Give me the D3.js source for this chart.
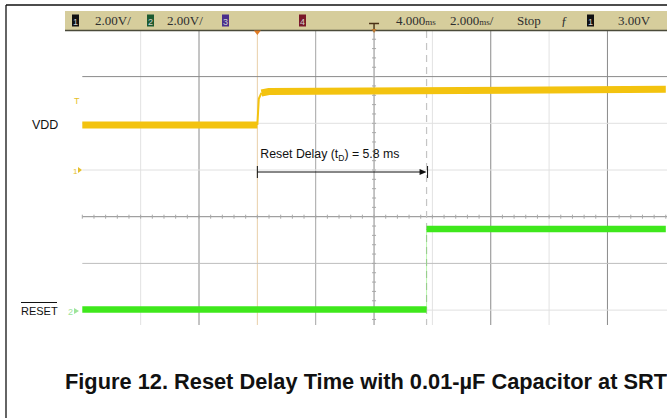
<!DOCTYPE html>
<html><head><meta charset="utf-8">
<script src="https://cdn.jsdelivr.net/npm/d3@7"></script>
<style>body{margin:0;background:#fff}svg{display:block}</style>
</head><body>
<svg id="c" width="667" height="418"></svg>
<script>
// ---------- data ----------
// time in ms, volts; 2 ms/div, 2 V/div, delay 4.000 ms at screen centre
const vddTime   = [-6, 0.00, 0.05, 0.14, 0.40, 14];
const vddVolts  = [1.93, 1.93, 3.05, 3.30, 3.36, 3.46];
const resetTime = [-6, 5.80, 5.80, 14];
const resetVolts= [0.06, 0.06, 3.51, 3.51];
const gridTimes = [-4, -2, 0, 2, 4, 6, 8, 10, 12];
const gridVolts = [4, 2, 0, -2, -4, -6];
const chanBoxes = ["1", "2", "3", "4"];
const headerLabels = ["2.00V/", "2.00V/", "4.000", "2.000", "Stop", "ƒ", "3.00V"];
const delayMs = 5.8;
const signalLabels = ["VDD", "RESET"];
const caption = "Figure 12. Reset Delay Time with 0.01-µF Capacitor at SRT";

// ---------- scales ----------
const svg = d3.select("#c");
const x = d3.scaleLinear().domain([-6, 14]).range([82.3, 665.8]);
const y1 = d3.scaleLinear().domain([0, 2]).range([170, 123.3]);   // ch1 (VDD)
const y2 = d3.scaleLinear().domain([0, 2]).range([311, 264.3]);   // ch2 (RESET)
const screenTop = 31, screenBottom = 325;

// frame
svg.append("line").attr("x1",6).attr("x2",6).attr("y1",5).attr("y2",418).attr("stroke","#111").attr("stroke-width",1.3);
svg.append("line").attr("x1",6).attr("x2",667).attr("y1",5).attr("y2",5).attr("stroke","#111").attr("stroke-width",1.3);

// clip for scope screen
svg.append("clipPath").attr("id","scr").append("rect")
  .attr("x",65).attr("y",screenTop).attr("width",602).attr("height",screenBottom-screenTop);
const scr = svg.append("g").attr("clip-path","url(#scr)");

// grid
const vStyle = t => t===0 ? "#e9cfa8" : ([-2,4,8,12].includes(t) ? "#8a8a8a" : (t===2 ? "#a4a4a4" : "#e2e2e2"));
scr.selectAll("line.vg").data(gridTimes).join("line").attr("class","vg")
  .attr("x1",d=>x(d)).attr("x2",d=>x(d)).attr("y1",screenTop).attr("y2",screenBottom)
  .attr("stroke",vStyle).attr("stroke-width",1);
const hStyle = v => (v===4||v===-2) ? "#8a8a8a" : (v===-4 ? "#bdbdbd" : "#e0e0e0");
scr.selectAll("line.hg").data(gridVolts).join("line").attr("class","hg")
  .attr("x1",x(-6)).attr("x2",667).attr("y1",d=>y1(d)).attr("y2",d=>y1(d))
  .attr("stroke",hStyle).attr("stroke-width",1);

// centre-axis minor ticks
const hTicks = d3.range(-6, 14.01, 0.4);
scr.selectAll("line.ht").data(hTicks).join("line").attr("class","ht")
  .attr("x1",d=>x(d)).attr("x2",d=>x(d)).attr("y1",y1(-2)-2).attr("y2",y1(-2)+2)
  .attr("stroke","#a8a8a8");
const vTicks = d3.range(-10, 6.01, 0.4);
scr.selectAll("line.vt").data(vTicks).join("line").attr("class","vt")
  .attr("x1",x(4)-2).attr("x2",x(4)+2).attr("y1",d=>y1(d)).attr("y2",d=>y1(d))
  .attr("stroke","#a8a8a8");

// dashed marker at RESET edge
scr.append("line").attr("x1",x(delayMs)).attr("x2",x(delayMs)).attr("y1",screenTop).attr("y2",screenBottom)
  .attr("stroke","#c4c4c4").attr("stroke-width",1.2).attr("stroke-dasharray","7,5");

// traces: thick flat levels, thin fast edges
function trace(ts, vs, ys, segs, color, w) {
  const ln = d3.line().x(i=>x(ts[i])).y(i=>ys(vs[i]));
  segs.forEach(s => {
    scr.append("path").attr("d", ln(s.idx)).attr("fill","none")
      .attr("stroke", color).attr("stroke-width", s.thin ? s.thin : w)
      .attr("stroke-opacity", s.op || 1).attr("stroke-linejoin","round");
  });
}
trace(vddTime, vddVolts, y1, [
  {idx:[0,1]}, {idx:[1,2,3], thin:2}, {idx:[3,4,5]}
], "#f3c30f", 7);
trace(resetTime, resetVolts, y2, [
  {idx:[0,1]}, {idx:[1,2], thin:1, op:0.35}, {idx:[2,3]}
], "#3fe81c", 6.5);

// left channel markers
svg.append("text").attr("x",74).attr("y",y1(3)+4).attr("font-family","Liberation Sans").attr("font-size",9)
  .attr("fill","#e6bf2a").text("T");
svg.append("text").attr("x",73).attr("y",y1(0)+4).attr("font-family","Liberation Sans").attr("font-size",8)
  .attr("fill","#e6bf2a").text("1");
svg.append("path").attr("d",`M78,${y1(0)-3}L82,${y1(0)}L78,${y1(0)+3}Z`).attr("fill","#e6bf2a");
svg.append("text").attr("x",68).attr("y",y2(0)+4).attr("font-family","Liberation Sans").attr("font-size",9)
  .attr("fill","#9ee49a").text("2");
svg.append("path").attr("d",`M74,${y2(0)-3}L79,${y2(0)}L74,${y2(0)+3}Z`).attr("fill","#9ee49a");

// header bar
svg.append("rect").attr("x",65).attr("y",11).attr("width",602).attr("height",19.5).attr("fill","#d6cd9c");
svg.append("line").attr("x1",65).attr("x2",667).attr("y1",30.5).attr("y2",30.5).attr("stroke","#4a4a3a").attr("stroke-width",1.5);
const boxX = [72, 147, 222, 299], boxC = ["#111","#1d5a30","#4a2f8c","#7a1828"];
chanBoxes.forEach((c,i)=>{
  svg.append("rect").attr("x",boxX[i]).attr("y",14.5).attr("width",7).attr("height",12).attr("fill",boxC[i]);
  svg.append("text").attr("x",boxX[i]+3.5).attr("y",24.5).attr("text-anchor","middle")
    .attr("font-family","Liberation Sans").attr("font-size",9).attr("fill", "#cfcfcf").text(c);
});
const hdrX = [95, 167, 396, 450, 517, 561, 618];
const hdr = svg.append("g").attr("font-family","Liberation Serif").attr("font-size",13).attr("fill","#2e2e2e");
headerLabels.forEach((t,i)=>{
  const tx = hdr.append("text").attr("x",hdrX[i]).attr("y",25).text(t);
  if (i===2) tx.append("tspan").attr("font-size",9).text("ms");
  if (i===3) { tx.append("tspan").attr("font-size",9).text("ms"); tx.append("tspan").text("/"); }
});
svg.append("rect").attr("x",587).attr("y",14.5).attr("width",7).attr("height",12).attr("fill","#111");
svg.append("text").attr("x",590.5).attr("y",24.5).attr("text-anchor","middle").attr("font-family","Liberation Sans")
  .attr("font-size",9).attr("fill","#cfcfcf").text("1");
// trigger glyph & time reference marker
svg.append("path").attr("d",`M${x(4)-5},23.5H${x(4)+5}M${x(4)},23.5V31`).attr("stroke","#4a3015").attr("stroke-width",1.4).attr("fill","none");
svg.append("path").attr("d",`M${x(4)-2.5},29L${x(4)},33L${x(4)+2.5},29Z`).attr("fill","#c07a30");
svg.append("path").attr("d",`M${x(0)-3.5},30.5L${x(0)},35L${x(0)+3.5},30.5Z`).attr("fill","#e07a22");

// signal labels
svg.append("text").attr("x",32).attr("y",y1(1.93)+4.5).attr("font-family","Liberation Sans").attr("font-size",12.5)
  .attr("fill","#111").text(signalLabels[0]);
svg.append("text").attr("x",21).attr("y",y2(0)+4).attr("font-family","Liberation Sans").attr("font-size",11)
  .attr("fill","#111").text(signalLabels[1]);
svg.append("line").attr("x1",21).attr("x2",57).attr("y1",302.5).attr("y2",302.5).attr("stroke","#111").attr("stroke-width",1);

// Reset delay annotation
const ay = 172;
svg.append("line").attr("x1",x(0)).attr("x2",x(delayMs)-5).attr("y1",ay).attr("y2",ay).attr("stroke","#111").attr("stroke-width",1);
svg.append("line").attr("x1",x(0)).attr("x2",x(0)).attr("y1",ay-6).attr("y2",ay+6).attr("stroke","#111").attr("stroke-width",1);
svg.append("line").attr("x1",x(delayMs)+1).attr("x2",x(delayMs)+1).attr("y1",ay-6).attr("y2",ay+6).attr("stroke","#111").attr("stroke-width",1);
svg.append("path").attr("d",`M${x(delayMs)-7},${ay-3}L${x(delayMs)},${ay}L${x(delayMs)-7},${ay+3}Z`).attr("fill","#111");
const at = svg.append("text").attr("x",x(0)+3).attr("y",158).attr("font-family","Liberation Sans").attr("font-size",12.3).attr("fill","#111");
at.append("tspan").text("Reset Delay (t");
at.append("tspan").attr("font-size",8.5).attr("dy",3).text("D");
at.append("tspan").attr("dy",-3).text(`) = ${delayMs} ms`);

// caption
svg.append("text").attr("x",65).attr("y",389).attr("font-family","Liberation Sans").attr("font-weight","bold")
  .attr("font-size",21.8).attr("fill","#111").text(caption);
</script>
</body></html>
